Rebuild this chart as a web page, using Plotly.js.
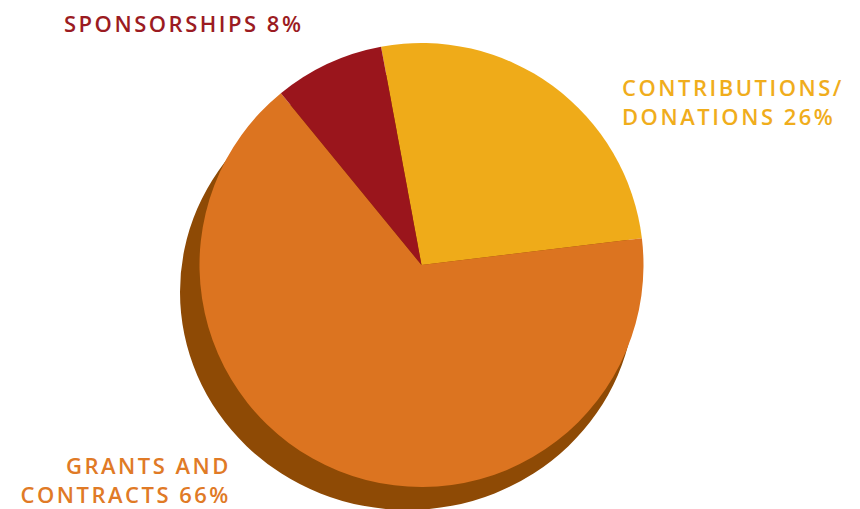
<!DOCTYPE html>
<html>
<head>
<meta charset="utf-8">
<script src="https://cdn.plot.ly/plotly-3.0.1.min.js"></script>
<style>
html,body{margin:0;padding:0;background:#fff}
#chart{width:860px;height:509px}
#chart .annotation-text{letter-spacing:2.5px}
</style>
</head>
<body>
<div id="chart"></div>
<script>
const categories = ["CONTRIBUTIONS/<br>DONATIONS", "GRANTS AND<br>CONTRACTS", "SPONSORSHIPS"];
const shares = [26, 66, 8];
const sliceColors = ["#EFAB19", "#DC7420", "#9A151C"];
const labelColors = ["#F0AD1C", "#E07A26", "#9B1B22"];

const W = 860, H = 509;
const cx = 421.5, cy = 265, r = 222;

const trace = {
  type: "pie",
  values: shares,
  labels: categories,
  sort: false,
  direction: "clockwise",
  rotation: -10.5,
  textinfo: "none",
  hoverinfo: "label+percent",
  marker: {colors: sliceColors, line: {width: 0}},
  showlegend: false,
  domain: {x: [(cx - r) / W, (cx + r) / W], y: [(H - cy - r) / H, (H - cy + r) / H]}
};

const font = {family: "Open Sans, sans-serif", size: 22, weight: 600};
// anchor point (px) and anchor side of each label block
const labelPos = [
  {x: 621, y: 101, xanchor: "left"},
  {x: 232, y: 479, xanchor: "right"},
  {x: 63, y: 23, xanchor: "left"}
];
const annotations = categories.map((c, i) => ({
  xref: "paper", yref: "paper",
  x: labelPos[i].x / W, y: (H - labelPos[i].y) / H,
  xanchor: labelPos[i].xanchor, yanchor: "middle",
  align: labelPos[i].xanchor,
  showarrow: false,
  borderpad: 0,
  text: c + " " + shares[i] + "%",
  font: Object.assign({}, font, {color: labelColors[i]})
}));

const sx = cx - 14, sy = cy + 27, rx = 227.5, ry = 218;
const layout = {
  width: W, height: H,
  margin: {l: 0, r: 0, t: 0, b: 0},
  paper_bgcolor: "#ffffff",
  showlegend: false,
  annotations: annotations,
  shapes: [{
    type: "circle", layer: "below", xref: "paper", yref: "paper",
    x0: (sx - rx) / W, x1: (sx + rx) / W,
    y0: (H - sy - ry) / H, y1: (H - sy + ry) / H,
    fillcolor: "#8E4A05", line: {width: 0}
  }]
};

Plotly.newPlot("chart", [trace], layout, {displayModeBar: false, staticPlot: true});
</script>
</body>
</html>
